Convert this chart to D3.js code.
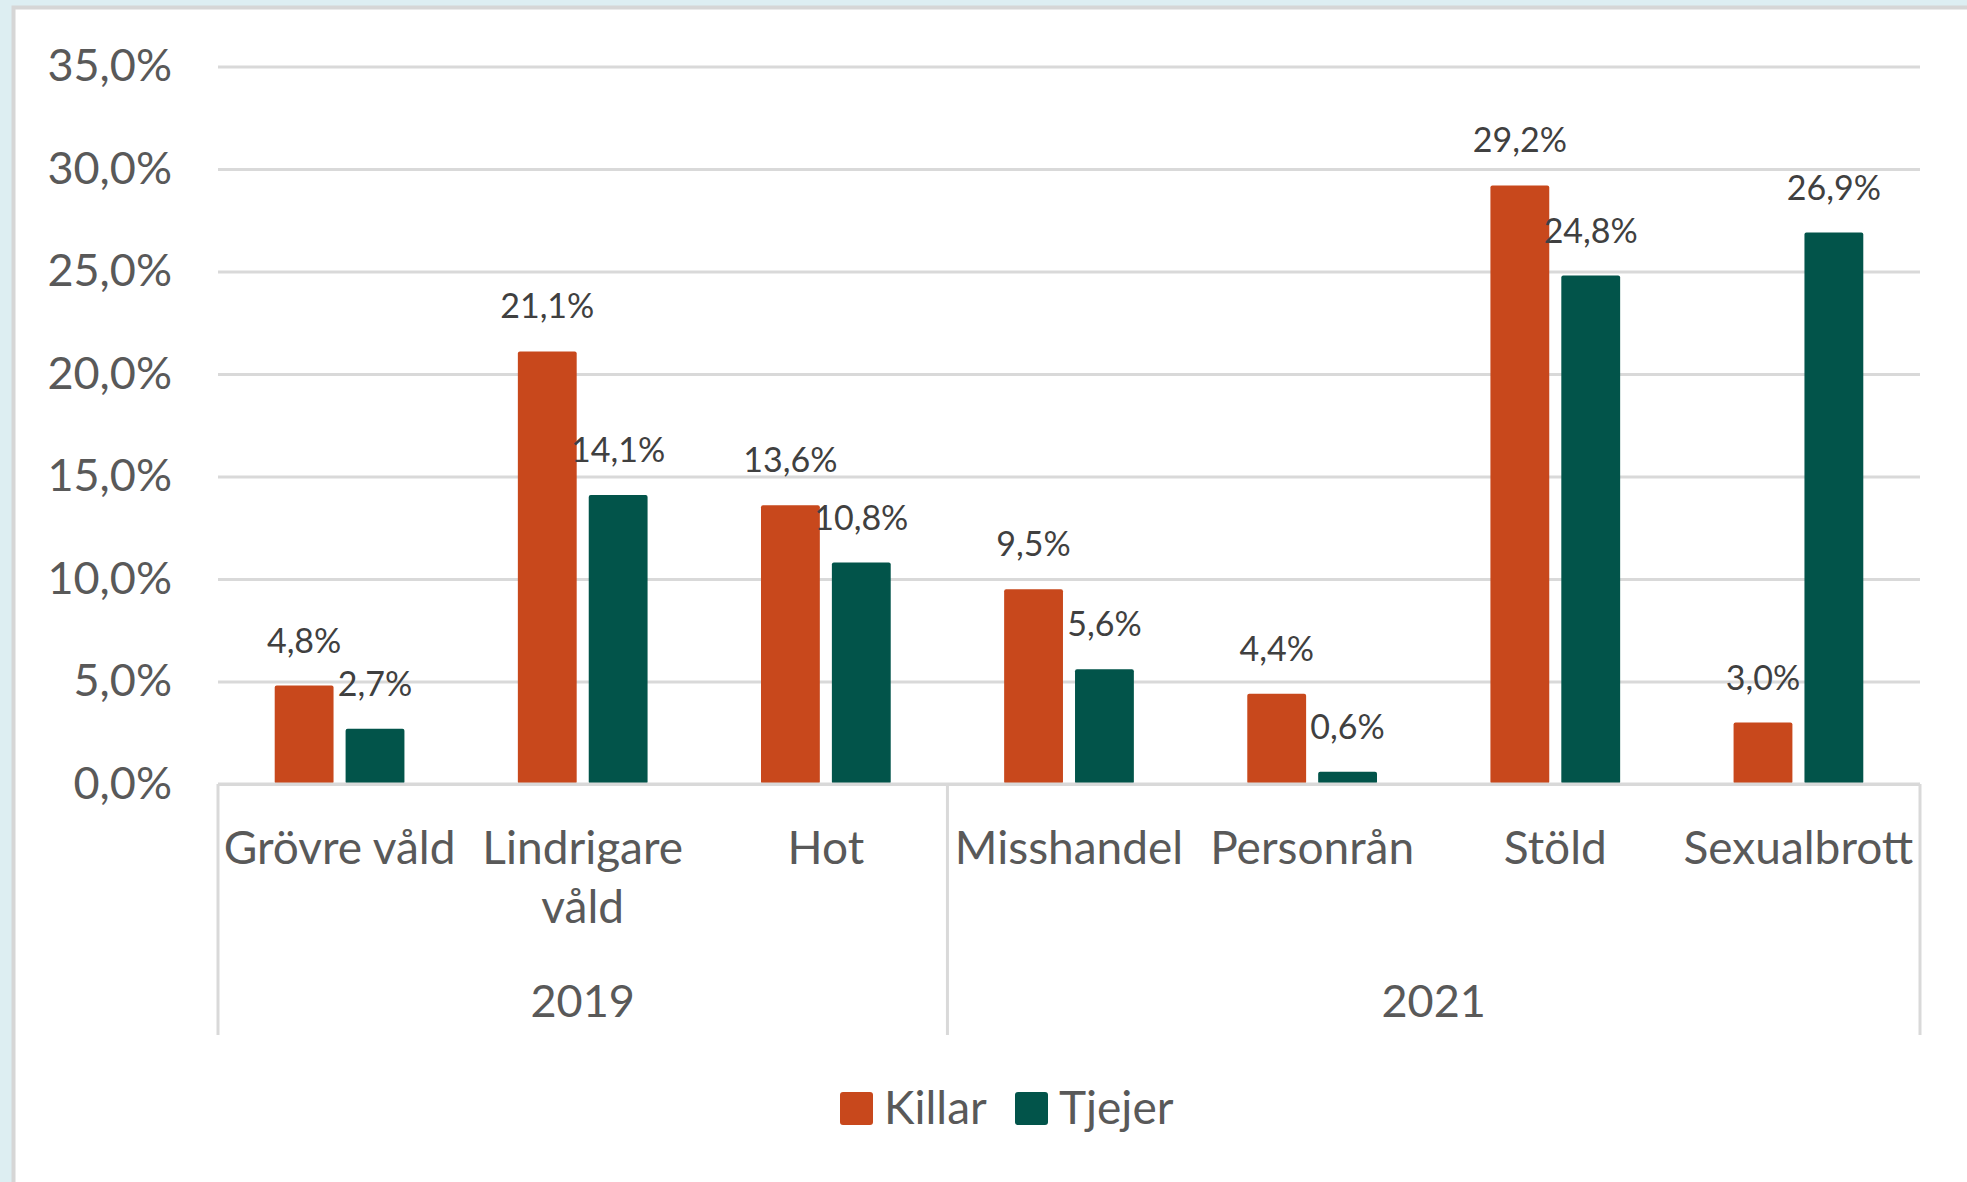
<!DOCTYPE html>
<html>
<head>
<meta charset="utf-8">
<script src="https://cdn.jsdelivr.net/npm/d3@7"></script>
<style>
  html, body { margin: 0; padding: 0; background: #ddeef2; }
  svg { display: block; font-family: Lato, "Noto Sans", sans-serif; }
</style>
</head>
<body>
<div id="chart"></div>
<script>
// Data
const categories = ['Grövre våld', 'Lindrigare våld', 'Hot', 'Misshandel', 'Personrån', 'Stöld', 'Sexualbrott'];
const categoryYear = ['2019', '2019', '2019', '2021', '2021', '2021', '2021'];
const years = ['2019', '2021'];
const seriesNames = ['Killar', 'Tjejer'];
const killar = [4.8, 21.1, 13.6, 9.5, 4.4, 29.2, 3.0];
const tjejer = [2.7, 14.1, 10.8, 5.6, 0.6, 24.8, 26.9];
const yTicks = [0, 5, 10, 15, 20, 25, 30, 35];

const colors = { Killar: '#c8481c', Tjejer: '#02544a' };

const W = 1967, H = 1182;
const plot = { left: 218, right: 1920, top: 66.5, bottom: 784 };

const svg = d3.select('#chart').append('svg')
    .attr('width', W)
    .attr('height', H)
    .attr('viewBox', `0 0 ${W} ${H}`);

// page background + white panel
svg.append('rect').attr('width', W).attr('height', H).attr('fill', '#ddeef2');
svg.append('rect')
    .attr('x', 13.5).attr('y', 7.5)
    .attr('width', W + 20).attr('height', H + 20)
    .attr('fill', '#ffffff')
    .attr('stroke', '#d6d6d6')
    .attr('stroke-width', 4);

const sv = d3.formatLocale({ decimal: ',', thousands: ' ', grouping: [3], currency: ['', ''] });
const fmt = v => sv.format('.1f')(v) + '%';

const x0 = d3.scaleBand()
    .domain(categories)
    .range([plot.left, plot.right])
    .padding(0);

const x1 = d3.scaleBand()
    .domain(seriesNames)
    .range([0, x0.bandwidth()])
    .paddingInner(0.17)
    .paddingOuter(0.8);

const y = d3.scaleLinear()
    .domain([0, 35])
    .range([plot.bottom, plot.top]);

// y axis with gridlines
const yAxis = svg.append('g')
    .attr('transform', `translate(${plot.left},0)`)
    .call(d3.axisLeft(y)
        .tickValues(yTicks)
        .tickFormat(fmt)
        .tickSize(-(plot.right - plot.left))
        .tickPadding(46));
yAxis.select('.domain').remove();
yAxis.selectAll('.tick line')
    .attr('stroke', '#d9d9d9')
    .attr('stroke-width', 3);
yAxis.selectAll('.tick text')
    .attr('fill', '#595959')
    .style('font-family', 'Lato, sans-serif')
    .style('font-size', '45px');

// bars
const rows = categories.map((c, i) => ({ cat: c, values: { Killar: killar[i], Tjejer: tjejer[i] } }));

const groups = svg.append('g').selectAll('g')
    .data(rows)
    .join('g')
    .attr('transform', d => `translate(${x0(d.cat)},0)`);

const bars = groups.selectAll('g.bar')
    .data(d => seriesNames.map(s => ({ key: s, value: d.values[s] })))
    .join('g')
    .attr('class', 'bar');

bars.append('rect')
    .attr('x', d => x1(d.key))
    .attr('y', d => y(d.value))
    .attr('width', x1.bandwidth())
    .attr('height', d => y(0) - y(d.value))
    .attr('rx', 2)
    .attr('fill', d => colors[d.key]);

bars.append('text')
    .attr('x', d => x1(d.key) + x1.bandwidth() / 2)
    .attr('y', d => y(d.value) - 33)
    .attr('text-anchor', 'middle')
    .attr('fill', '#404040')
    .style('font-size', '34px')
    .text(d => fmt(d.value));

// category axis line
svg.append('line')
    .attr('x1', plot.left).attr('x2', plot.right)
    .attr('y1', plot.bottom).attr('y2', plot.bottom)
    .attr('stroke', '#d9d9d9')
    .attr('stroke-width', 3);

// year group separators
const yearBounds = years.map(yr => {
    const cats = categories.filter((c, i) => categoryYear[i] === yr);
    return { year: yr, x0: x0(cats[0]), x1: x0(cats[cats.length - 1]) + x0.bandwidth() };
});
const sepX = [yearBounds[0].x0].concat(yearBounds.map(b => b.x1));
svg.append('g').selectAll('line')
    .data(sepX)
    .join('line')
    .attr('x1', d => d).attr('x2', d => d)
    .attr('y1', plot.bottom).attr('y2', 1035)
    .attr('stroke', '#d9d9d9')
    .attr('stroke-width', 3);

// category labels (wrap if wider than band)
const catLabels = svg.append('g').selectAll('text')
    .data(categories)
    .join('text')
    .attr('x', d => x0(d) + x0.bandwidth() / 2)
    .attr('y', 864)
    .attr('text-anchor', 'middle')
    .attr('fill', '#595959')
    .style('font-size', '46px')
    .text(d => d);

catLabels.each(function (d) {
    const t = d3.select(this);
    if (this.getComputedTextLength() > x0.bandwidth()) {
        const words = d.split(' ');
        t.text(null);
        const cx = +t.attr('x');
        words.forEach((w, i) => {
            t.append('tspan').attr('x', cx).attr('dy', i === 0 ? 0 : 59).text(w);
        });
    }
});

// year labels
svg.append('g').selectAll('text')
    .data(yearBounds)
    .join('text')
    .attr('x', d => (d.x0 + d.x1) / 2)
    .attr('y', 1017)
    .attr('text-anchor', 'middle')
    .attr('fill', '#595959')
    .style('font-size', '45px')
    .text(d => d.year);

// legend
const legend = svg.append('g').selectAll('g')
    .data(seriesNames)
    .join('g')
    .attr('transform', (d, i) => `translate(${840 + i * 175},1092)`);

legend.append('rect')
    .attr('width', 33).attr('height', 33)
    .attr('rx', 3)
    .attr('fill', d => colors[d]);

legend.append('text')
    .attr('x', 44)
    .attr('y', 32)
    .attr('fill', '#595959')
    .style('font-size', '46px')
    .text(d => d);
</script>
</body>
</html>
